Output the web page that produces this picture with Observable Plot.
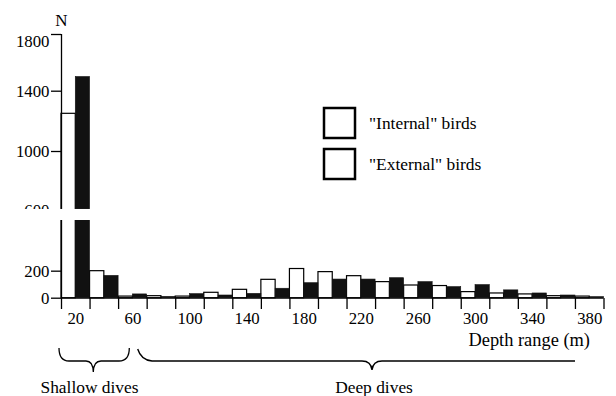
<!DOCTYPE html>
<html>
<head>
<meta charset="utf-8">
<script src="https://cdn.jsdelivr.net/npm/d3@7"></script>
<script src="https://cdn.jsdelivr.net/npm/@observablehq/plot@0.6"></script>
<style>
  html, body { margin: 0; padding: 0; background: #fff; font-family: 'Liberation Serif', serif; }
  #chart svg { display: block; }
</style>
</head>
<body>
<div id="chart"></div>
<script>
// ---- data ----
const depths   = [20, 40, 60, 80, 100, 120, 140, 160, 180, 200, 220, 240, 260, 280, 300, 320, 340, 360, 380];
const internal = [1250, 200, 12, 15, 12, 40, 62, 136, 216, 193, 163, 119, 94, 90, 45, 35, 28, 15, 12];
const external = [1500, 165, 28, 10, 30, 20, 32, 70, 111, 138, 138, 148, 119, 82, 97, 58, 35, 20, 8];
const seriesNames = ['"Internal" birds', '"External" birds'];
const xTickLabels = [20, 60, 100, 140, 180, 220, 260, 300, 340, 380];
const yTickLabels = [0, 200, 600, 1000, 1400, 1800];
const binHalf = 10;

const rows = depths.map((d, i) => ({depth: d, internal: internal[i], external: external[i]}));
const binEdges = depths.map(d => d - binHalf).concat([depths[depths.length - 1] + binHalf]);

const FONT = "Liberation Serif";

const chart = Plot.plot({
  width: 616,
  height: 396,
  marginLeft: 61,
  marginRight: 12.5,
  marginTop: 34,
  marginBottom: 98,
  x: {type: "linear", domain: [binEdges[0], binEdges[binEdges.length - 1]], range: [61, 603.5], label: null},
  // broken axis: lower part 0–575, gap, upper part 600–1800
  y: {type: "linear", domain: [0, 575, 600, 1000, 1400, 1800], range: [297.7, 220, 210, 151, 90.7, 34], label: null},
  marks: [
    Plot.rect(rows, {x1: d => d.depth - binHalf, x2: d => d.depth, y1: 0, y2: "internal",
      fill: "white", stroke: "black", strokeWidth: 1.2}),
    Plot.rect(rows, {x1: d => d.depth, x2: d => d.depth + binHalf, y1: 0, y2: "external",
      fill: "#111", stroke: "#111", strokeWidth: 0.6}),
    Plot.ruleY([0], {x1: binEdges[0], x2: binEdges[binEdges.length - 1], stroke: "black", strokeWidth: 1.3}),
    Plot.ruleX([binEdges[0]], {y1: 0, y2: 575, stroke: "black", strokeWidth: 1.3}),
    Plot.ruleX([binEdges[0]], {y1: 600, y2: 1800, stroke: "black", strokeWidth: 1.3}),
    Plot.axisX(binEdges, {tickSize: 11, tickFormat: () => "", stroke: "black", strokeWidth: 1.3, label: null}),
    Plot.axisX(xTickLabels, {tickSize: 0, tickPadding: 14, fontSize: 16.8, tickFormat: d => String(d), label: null}),
    Plot.axisY(yTickLabels, {tickSize: 10, tickFormat: () => "", stroke: "black", strokeWidth: 1.3, label: null}),
    Plot.axisY(yTickLabels.filter(t => t !== 1800), {tickSize: 0, tickPadding: 12, fontSize: 16.8, tickFormat: d => String(d), label: null}),
    Plot.axisY([1800], {tickSize: 0, tickPadding: 12, dy: 7, fontSize: 16.8, tickFormat: d => String(d), label: null}),
    // white break across the axis
    Plot.rect([0], {x1: -45, x2: 395, y1: 575, y2: 607, fill: "white"}),
    Plot.text(["N"], {x: binEdges[0], y: 1800, text: d => d, lineAnchor: "bottom", dy: -9, fontSize: 17})
  ]
});

chart.removeAttribute("class");
chart.removeAttribute("style");
chart.setAttribute("font-family", FONT);
chart.setAttribute("font-size", "16.8");
chart.style.overflow = "visible";
chart.style.background = "white";
chart.querySelectorAll("style").forEach(s => s.remove());
document.getElementById("chart").appendChild(chart);

// ---- annotations: legend, axis title, braces ----
const svg = d3.select(chart);
const g = svg.append("g").attr("fill", "black").attr("text-anchor", "start").attr("font-family", FONT);

const legendY = [108, 149];
seriesNames.forEach((name, i) => {
  g.append("rect").attr("x", 324).attr("y", legendY[i]).attr("width", 31).attr("height", 30)
    .attr("fill", "white").attr("stroke", "black").attr("stroke-width", 2.5);
  g.append("text").attr("x", 369).attr("y", legendY[i] + 20.5).attr("text-anchor", "start")
    .attr("font-size", 17.4).text(name);
});

g.append("text").attr("x", 590).attr("y", 346).attr("text-anchor", "end").attr("font-size", 18.4).text("Depth range (m)");

g.append("path")
  .attr("d", "M59,348 Q59,361 69,361 L86,361 Q93,361 93.3,372 Q93.6,361 101,361 L119,361 Q129.3,361 129.3,348")
  .attr("fill", "none").attr("stroke", "black").attr("stroke-width", 1.3);
g.append("path")
  .attr("d", "M137.7,349 Q141,360 152,361 L362,361 Q371,361 372,370 Q373,361 382,361 L575,361")
  .attr("fill", "none").attr("stroke", "black").attr("stroke-width", 1.4);

g.append("text").attr("x", 89.5).attr("y", 393).attr("text-anchor", "middle").attr("font-size", 17.4).text("Shallow dives");
g.append("text").attr("x", 374).attr("y", 393).attr("text-anchor", "middle").attr("font-size", 17.4).text("Deep dives");

svg.selectAll("g").attr("font-family", FONT);
svg.selectAll("text").attr("font-family", FONT);
</script>
</body>
</html>
